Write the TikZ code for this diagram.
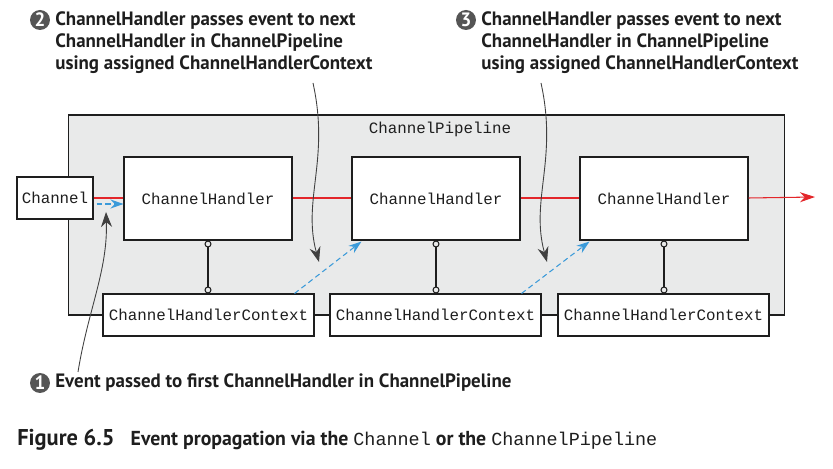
\documentclass[tikz,border=0pt]{standalone}
\usepackage{fontspec}
\setmainfont{Liberation Sans}
\setmonofont{Liberation Mono}
\newfontfamily\notefont[FakeStretch=0.98]{PT Sans}
\usetikzlibrary{arrows.meta,positioning,calc}
\definecolor{pipegray}{HTML}{E9EAEA}
\definecolor{evred}{HTML}{E3262A}
\definecolor{evblue}{HTML}{3A9AD9}
\definecolor{ink}{HTML}{1E1E1E}
\definecolor{badgegray}{HTML}{555555}
\tikzset{boxbase/.style={draw=ink,fill=white,line width=0.6pt,inner sep=0pt,text=ink,font=\ttfamily\fontsize{9}{11}\selectfont},
  handler/.style={boxbase,minimum width=3.36cm,minimum height=1.66cm},
  ctx/.style={boxbase,minimum width=4.22cm,minimum height=0.84cm},
  chanbox/.style={boxbase,minimum width=1.52cm,minimum height=0.84cm},
  pipebox/.style={draw=ink,fill=pipegray,line width=0.6pt,minimum width=14.34cm,minimum height=4cm},
  badge/.style={circle,fill=badgegray,text=white,inner sep=0pt,minimum size=0.4cm,font=\notefont\bfseries\fontsize{11}{12}\selectfont},
  note/.style={align=left,inner sep=0pt,text=ink,font=\notefont\bfseries\fontsize{11}{12.5}\selectfont},
  evline/.style={draw=evred,line width=0.6pt},
  evarr/.style={evline,-{Stealth[length=3mm,width=2mm]}},
  ctxarr/.style={draw=evblue,line width=0.6pt,dashed,dash pattern=on 3pt off 2pt,-{Stealth[length=2.6mm,width=1.8mm]}},
  callarr/.style={draw=ink!85,line width=0.5pt,-{Stealth[length=3mm,width=2.2mm]}},
  link/.style={draw=ink,line width=0.6pt,{Circle[open,length=1.4mm]}-{Circle[open,length=1.4mm]}}}

\begin{document}
\begin{tikzpicture}[x=0.02cm,y=-0.02cm]
\useasboundingbox (0,0) rectangle (833,469);
\node[pipebox] (pipe) at (426.5,215) {};
\node[text=ink,font=\ttfamily\fontsize{9}{11}\selectfont] (pipelabel) at (440,129) {ChannelPipeline};
\node[chanbox] (chan) at (55,198) {Channel};
\node[handler] (h1) at (208,198.5) {ChannelHandler};
\node[handler] (h2) at (436,198.5) {ChannelHandler};
\node[handler] (h3) at (664,198.5) {ChannelHandler};
\node[ctx] (c1) at (208.5,315) {ChannelHandlerContext};
\node[ctx] (c2) at (435.5,315) {ChannelHandlerContext};
\node[ctx] (c3) at (663.5,315) {ChannelHandlerContext};
\coordinate (out) at (815,197);
\draw[evline] (chan.east) -- (chan.east -| h1.west);
\draw[evline] (chan.east -| h1.east) -- (chan.east -| h2.west);
\draw[evline] (chan.east -| h2.east) -- (chan.east -| h3.west);
\draw[evarr] (chan.east -| h3.east) -- (out);
\draw[ctxarr] ($(chan.east)+(3,6)$) -- ($(chan.east -| h1.west)+(0,6)$);
\draw[ctxarr] ($(c1.north east)+(-20,0)$) -- ($(h2.south west)+(10,1)$);
\draw[ctxarr] ($(c2.north east)+(-20,0)$) -- ($(h3.south west)+(10,1)$);
\draw[link] (h1.south) -- (h1.south |- c1.north);
\draw[link] (h2.south) -- (h2.south |- c2.north);
\draw[link] (h3.south) -- (h3.south |- c3.north);
\node[badge] (b2) at (40,20) {2};
\node[note,anchor=north west] (note2) at (55,11) {ChannelHandler passes event to next\\ChannelHandler in ChannelPipeline\\using assigned ChannelHandlerContext};
\node[badge] (b3) at (466,20) {3};
\node[note,anchor=north west] (note3) at (481,11) {ChannelHandler passes event to next\\ChannelHandler in ChannelPipeline\\using assigned ChannelHandlerContext};
\node[badge] (b1) at (40,383) {1};
\node[note,anchor=west] (note1) at (55,383) {Event passed to first ChannelHandler in ChannelPipeline};
\coordinate (from2) at (313,83);
\coordinate (to2) at (319,262);
\coordinate (from3) at (541,83);
\coordinate (to3) at (547,262);
\coordinate (from1) at (78,372);
\coordinate (to1) at (106,212);
\draw[callarr] (from2) .. controls (330,160) and (302,200) .. (to2);
\draw[callarr] (from3) .. controls (558,160) and (530,200) .. (to3);
\draw[callarr] (from1) .. controls (88,310) and (108,270) .. (to1);
\node[note,anchor=west,font=\notefont\bfseries\fontsize{11.5}{13}\selectfont] (caption) at (17,440) {{\fontsize{13}{14}\selectfont Figure 6.5}\hspace{0.8em}Event propagation via the {\ttfamily\mdseries\fontsize{10.5}{12}\selectfont Channel} or the {\ttfamily\mdseries\fontsize{10.5}{12}\selectfont ChannelPipeline}};
\end{tikzpicture}
\end{document}
